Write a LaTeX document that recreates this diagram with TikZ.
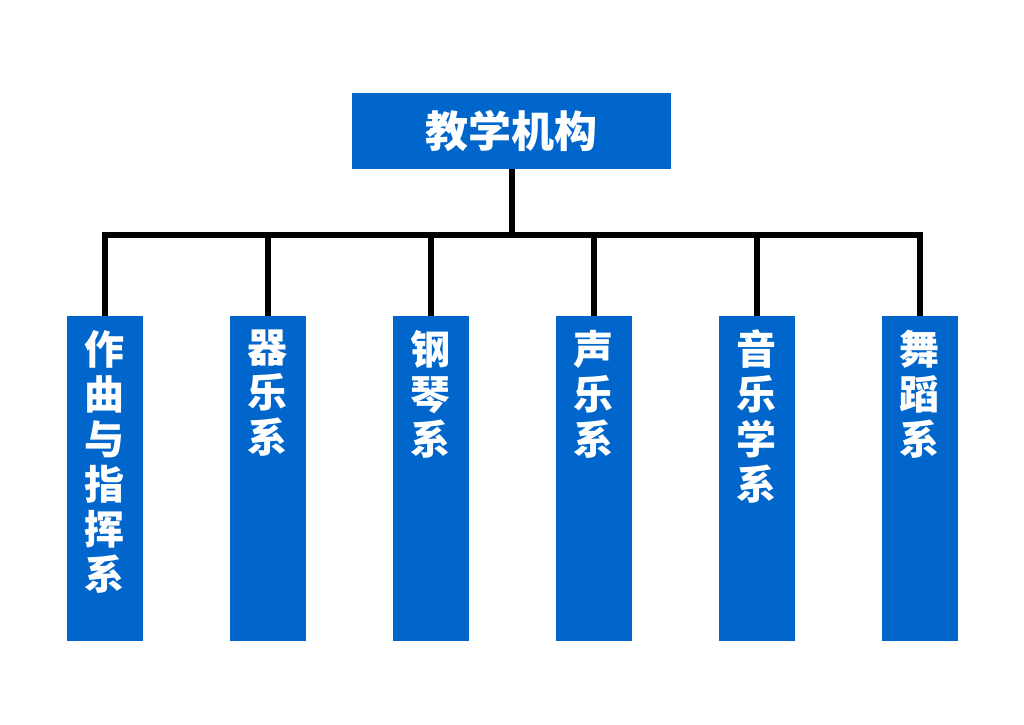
\documentclass[tikz,border=0pt]{standalone}
\usepackage{fontspec}
\newfontfamily\cjk{Noto Sans CJK SC}
\definecolor{boxblue}{HTML}{0066CC}
\begin{document}
\begin{tikzpicture}[x=1pt,y=-1pt,
  topbox/.style={fill=boxblue, minimum width=319pt, minimum height=76pt, inner sep=0pt,
    text=white, font=\cjk\bfseries\fontsize{43}{46}\selectfont},
  deptbox/.style={fill=boxblue, minimum width=76pt, minimum height=325pt, inner sep=0pt},
  depttext/.style={text=white, align=center, inner sep=0pt, anchor=north,
    font=\cjk\bfseries\fontsize{40}{45}\selectfont},
  conn/.style={line width=6pt, black, line join=miter}]
\useasboundingbox (0,0) rectangle (1024,724);
\node[topbox] (top) at (511.5,131) {教学机构};
\coordinate (bus) at (511.5,235);
\foreach \i/\x/\t in {1/104.5/{作\\曲\\与\\指\\挥\\系},
                      2/267.5/{器\\乐\\系},
                      3/430.5/{钢\\琴\\系},
                      4/593.5/{声\\乐\\系},
                      5/756.5/{音\\乐\\学\\系},
                      6/919.5/{舞\\蹈\\系}}{
  \node[deptbox] (d\i) at (\x,478.5) {};
  \node[depttext] (t\i) at ([yshift=-14pt]d\i.north) {\t};
}
\draw[conn] (top.south) -- (bus);
\draw[conn] (d1.north) -- (d1.north |- bus) -- (d6.north |- bus) -- (d6.north);
\foreach \i in {2,3,4,5}{
  \draw[conn] (d\i.north) -- (d\i.north |- bus);
}
\end{tikzpicture}
\end{document}
